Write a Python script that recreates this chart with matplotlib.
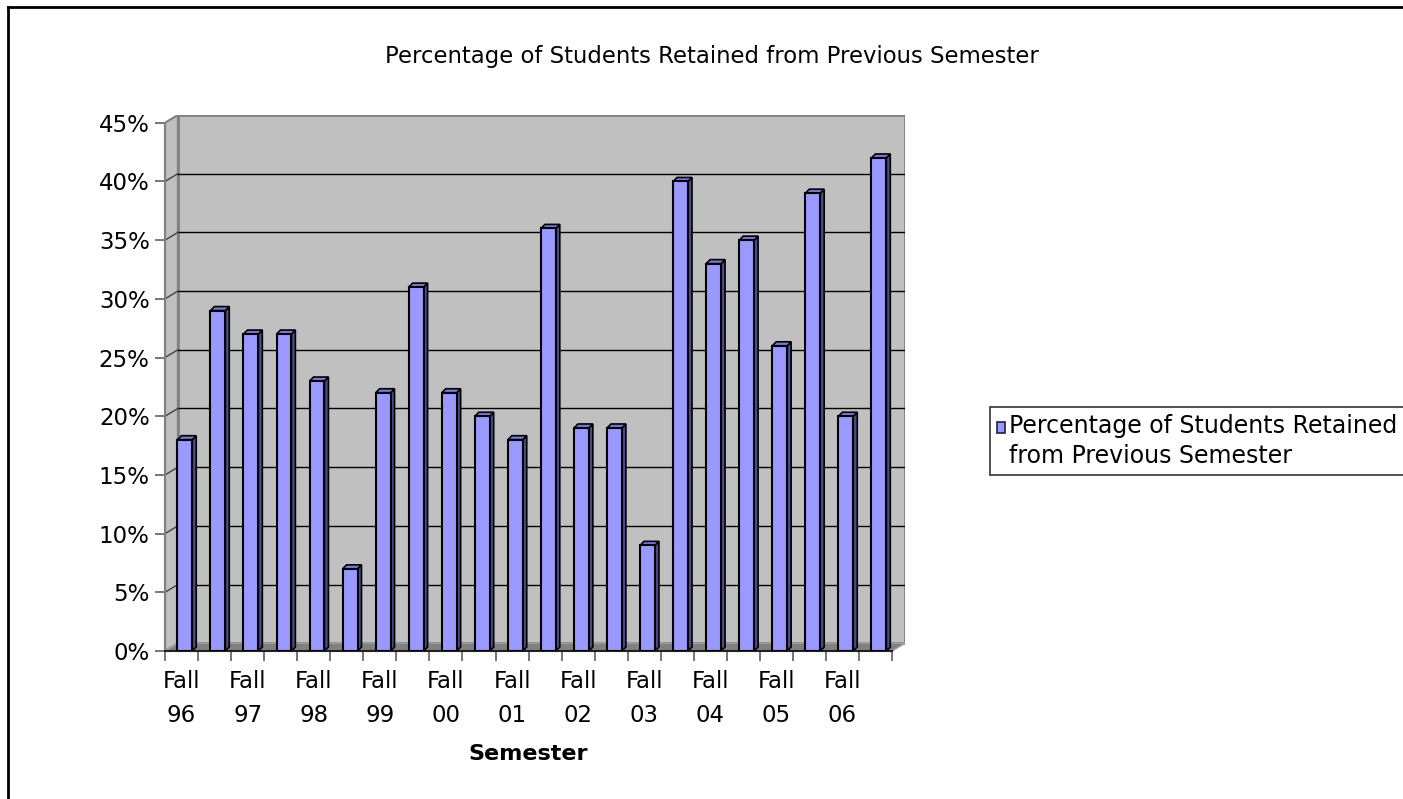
#!/usr/bin/env python3
#Retention chart drawn like an Excel 3D column chart
import numpy as np
import matplotlib.pyplot as plt
from matplotlib.patches import Polygon, Rectangle
from matplotlib.lines import Line2D
from matplotlib.legend_handler import HandlerPatch

#### Data ####
title = 'Percentage of Students Retained from Previous Semester'
series_name = 'Percentage of Students Retained\nfrom Previous Semester'
fall_labels = ['Fall\n96', 'Fall\n97', 'Fall\n98', 'Fall\n99', 'Fall\n00', 'Fall\n01',
               'Fall\n02', 'Fall\n03', 'Fall\n04', 'Fall\n05', 'Fall\n06']
retained = [18, 29, 27, 27, 23, 7, 22, 31, 22, 20, 18,
            36, 19, 19, 9, 40, 33, 35, 26, 39, 20, 42]
y_ticks = [0, 5, 10, 15, 20, 25, 30, 35, 40, 45]
##############

n = len(retained)
x = np.arange(n)

#depth offsets of the walls and of the bars (data units)
dxw, dyw = 0.39, 0.66
dxb, dyb = 0.12, 0.34
w = 0.45
off = 0.1

front_col = '#9999FF'
side_col = '#4C4C8C'
top_col = '#7878D8'
wall_col = '#C0C0C0'
floor_col = '#808080'

W, H = 1403, 799
fig = plt.figure(figsize=(W/100, H/100), dpi=100)
ax = fig.add_axes([165/W, 1-651/H, 740/W, 536/H])
ax.set_xlim(-0.5, n-0.5+dxw)
ax.set_ylim(0, y_ticks[-1]+dyw)
ax.patch.set_visible(False)

#walls and floor
x0, x1 = -0.5, n-0.5
ymax = y_ticks[-1]
ax.add_patch(Polygon([(x0, 0), (x0+dxw, dyw), (x0+dxw, ymax+dyw), (x0, ymax)],
                     closed=True, fc=wall_col, ec='#808080', lw=1.5, zorder=0))
ax.add_patch(Rectangle((x0+dxw, dyw), n, ymax, fc=wall_col, ec='#808080', lw=2, zorder=0))
ax.add_patch(Polygon([(x0, 0), (x1, 0), (x1+dxw, dyw), (x0+dxw, dyw)],
                     closed=True, fc=floor_col, ec='#A0A0A0', lw=1, zorder=1))

#gridlines on back wall and left wall
for t in y_ticks[1:-1]:
    ax.plot([x0+dxw, x1+dxw], [t+dyw, t+dyw], color='black', lw=1, zorder=0.5)
    ax.plot([x0, x0+dxw], [t, t+dyw], color='#404040', lw=1, zorder=0.5)

#bars: front face, right side and top
xc = x + off
ax.bar(xc, retained, width=w, color=front_col, edgecolor='black', lw=1.5, zorder=3)
for xi, v in zip(xc, retained):
    xl, xr = xi - w/2, xi + w/2
    side = Polygon([(xr, 0), (xr+dxb, dyb), (xr+dxb, v+dyb), (xr, v)],
                   closed=True, fc=side_col, ec='black', lw=1.2, zorder=2.5)
    top = Polygon([(xl, v), (xl+dxb, v+dyb), (xr+dxb, v+dyb), (xr, v)],
                  closed=True, fc=top_col, ec='black', lw=1.2, zorder=2.5)
    ax.add_patch(side)
    ax.add_patch(top)

#axes lines and ticks
for s in ['top', 'right']:
    ax.spines[s].set_visible(False)
ax.spines['left'].set_bounds(0, ymax)
ax.spines['left'].set_color('#808080')
ax.spines['left'].set_linewidth(1.5)
ax.spines['bottom'].set_bounds(x0, x1)
ax.spines['bottom'].set_color('#202020')
ax.spines['bottom'].set_linewidth(1.5)

fs = 16.5
ax.set_yticks(y_ticks)
ax.set_yticklabels(['%d%%' % t for t in y_ticks], fontsize=fs)
ax.tick_params(axis='y', length=7, width=1.2, color='#606060', pad=4)

ax.set_xticks(np.arange(x0, x1+0.5, 1))
ax.set_xticklabels([])
ax.set_xticks(x[::2], minor=True)
ax.set_xticklabels(fall_labels, minor=True, fontsize=fs, linespacing=1.6)
ax.tick_params(axis='x', which='major', length=7, width=1.2, color='#606060')
ax.tick_params(axis='x', which='minor', length=0, pad=14)

ax.set_xlabel('Semester', fontsize=16, fontweight='bold')
ax.xaxis.set_label_coords((528-165)/740, -(744-651)/536)

fig.text(712/W, 1-57/H, title, fontsize=16.4, ha='center', va='center')

#legend square sits next to the first line of the label
def upper_square(legend, orig_handle, xdescent, ydescent, width, height, fontsize):
    return Rectangle((-xdescent, -ydescent + 0.6*fontsize), width, height)

lfs = 17
leg = ax.legend([Rectangle((0, 0), 1, 1, fc=front_col, ec='#202040', lw=1.2)], [series_name],
                loc='upper left', bbox_to_anchor=(990/W, 1-407/H), bbox_transform=fig.transFigure,
                fontsize=lfs, frameon=True, fancybox=False, borderpad=0.3,
                handlelength=0.35, handleheight=0.35, handletextpad=0.15, borderaxespad=0,
                handler_map={Rectangle: HandlerPatch(patch_func=upper_square)})
leg.get_frame().set_edgecolor('black')
leg.get_frame().set_linewidth(1.2)
leg.get_texts()[0].set_linespacing(1.3)

#outer frame of the chart (top and left edges are inside the picture)
fig.add_artist(Line2D([8/W, 8/W], [0, 1-7/H], color='black', lw=2, transform=fig.transFigure))
fig.add_artist(Line2D([8/W, 1], [1-7/H, 1-7/H], color='black', lw=2, transform=fig.transFigure))

plt.savefig('out.png', dpi=100)
